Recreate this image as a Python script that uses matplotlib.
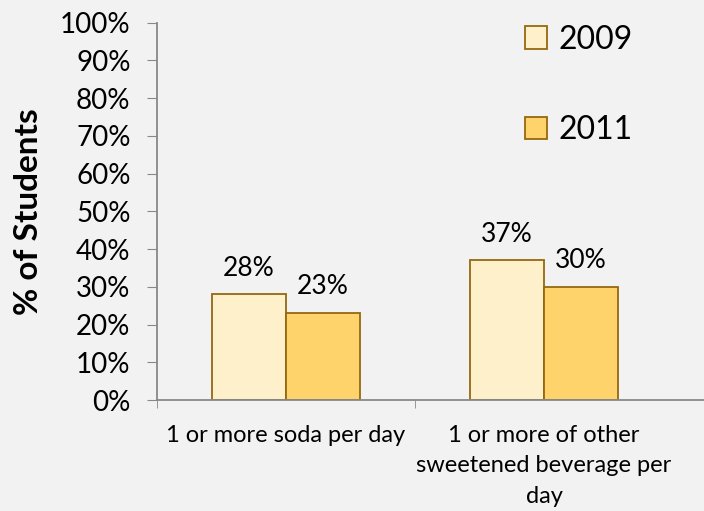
import numpy as np
import matplotlib.pyplot as plt
from matplotlib.ticker import PercentFormatter

plt.rcParams['font.family'] = ['Lato', 'DejaVu Sans']

# Survey values (% of students)
categories = ['1 or more soda per day', '1 or more of other\nsweetened beverage per\nday']
years = ['2009', '2011']
values_2009 = [28, 37]
values_2011 = [23, 30]

fills = ['#FFF0CC', '#FFD36B']
edge = '#94680F'
bg = '#F2F2F2'

fig = plt.figure(figsize=(7.04, 5.11), dpi=100, facecolor=bg)
ax = fig.add_axes([0.223, 0.217, 0.777, 0.7387], facecolor=bg)

x = np.arange(len(categories))
w = 0.287
b1 = ax.bar(x - w / 2, values_2009, w, color=fills[0], edgecolor=edge, linewidth=1.3, label=years[0])
b2 = ax.bar(x + w / 2, values_2011, w, color=fills[1], edgecolor=edge, linewidth=1.3, label=years[1])

for bars, vals in [(b1, values_2009), (b2, values_2011)]:
    for rect, v in zip(bars, vals):
        ax.annotate(f'{v}%', (rect.get_x() + rect.get_width() / 2, v),
                    xytext=(0, 19), textcoords='offset points',
                    ha='center', va='center', fontsize=19)

ax.set_ylim(0, 100)
ax.set_xlim(-0.5, 1.62)
ax.set_yticks(np.arange(0, 101, 10))
ax.yaxis.set_major_formatter(PercentFormatter(decimals=0))
ax.tick_params(axis='y', labelsize=20, length=7, color='#888888', pad=12)

# category labels centred, small ticks on category boundaries
ax.set_xticks(x)
ax.set_xticklabels(categories, fontsize=17, linespacing=1.55)
ax.tick_params(axis='x', length=0, pad=18)
ax.set_xticks([-0.5, 0.5], minor=True)
ax.tick_params(axis='x', which='minor', length=6, color='#888888')

for s in ['top', 'right']:
    ax.spines[s].set_visible(False)
for s in ['left', 'bottom']:
    ax.spines[s].set_color('#888888')
    ax.spines[s].set_linewidth(1.3)

ax.set_ylabel('% of Students', fontsize=24, fontweight='bold', labelpad=12)

ax.legend(loc='upper left', bbox_to_anchor=(0.62, 1.071), frameon=False,
          fontsize=23, handlelength=0.7, handleheight=0.7, handletextpad=0.35,
          labelspacing=1.9)

fig.savefig('out.png', dpi=100, facecolor=bg)
